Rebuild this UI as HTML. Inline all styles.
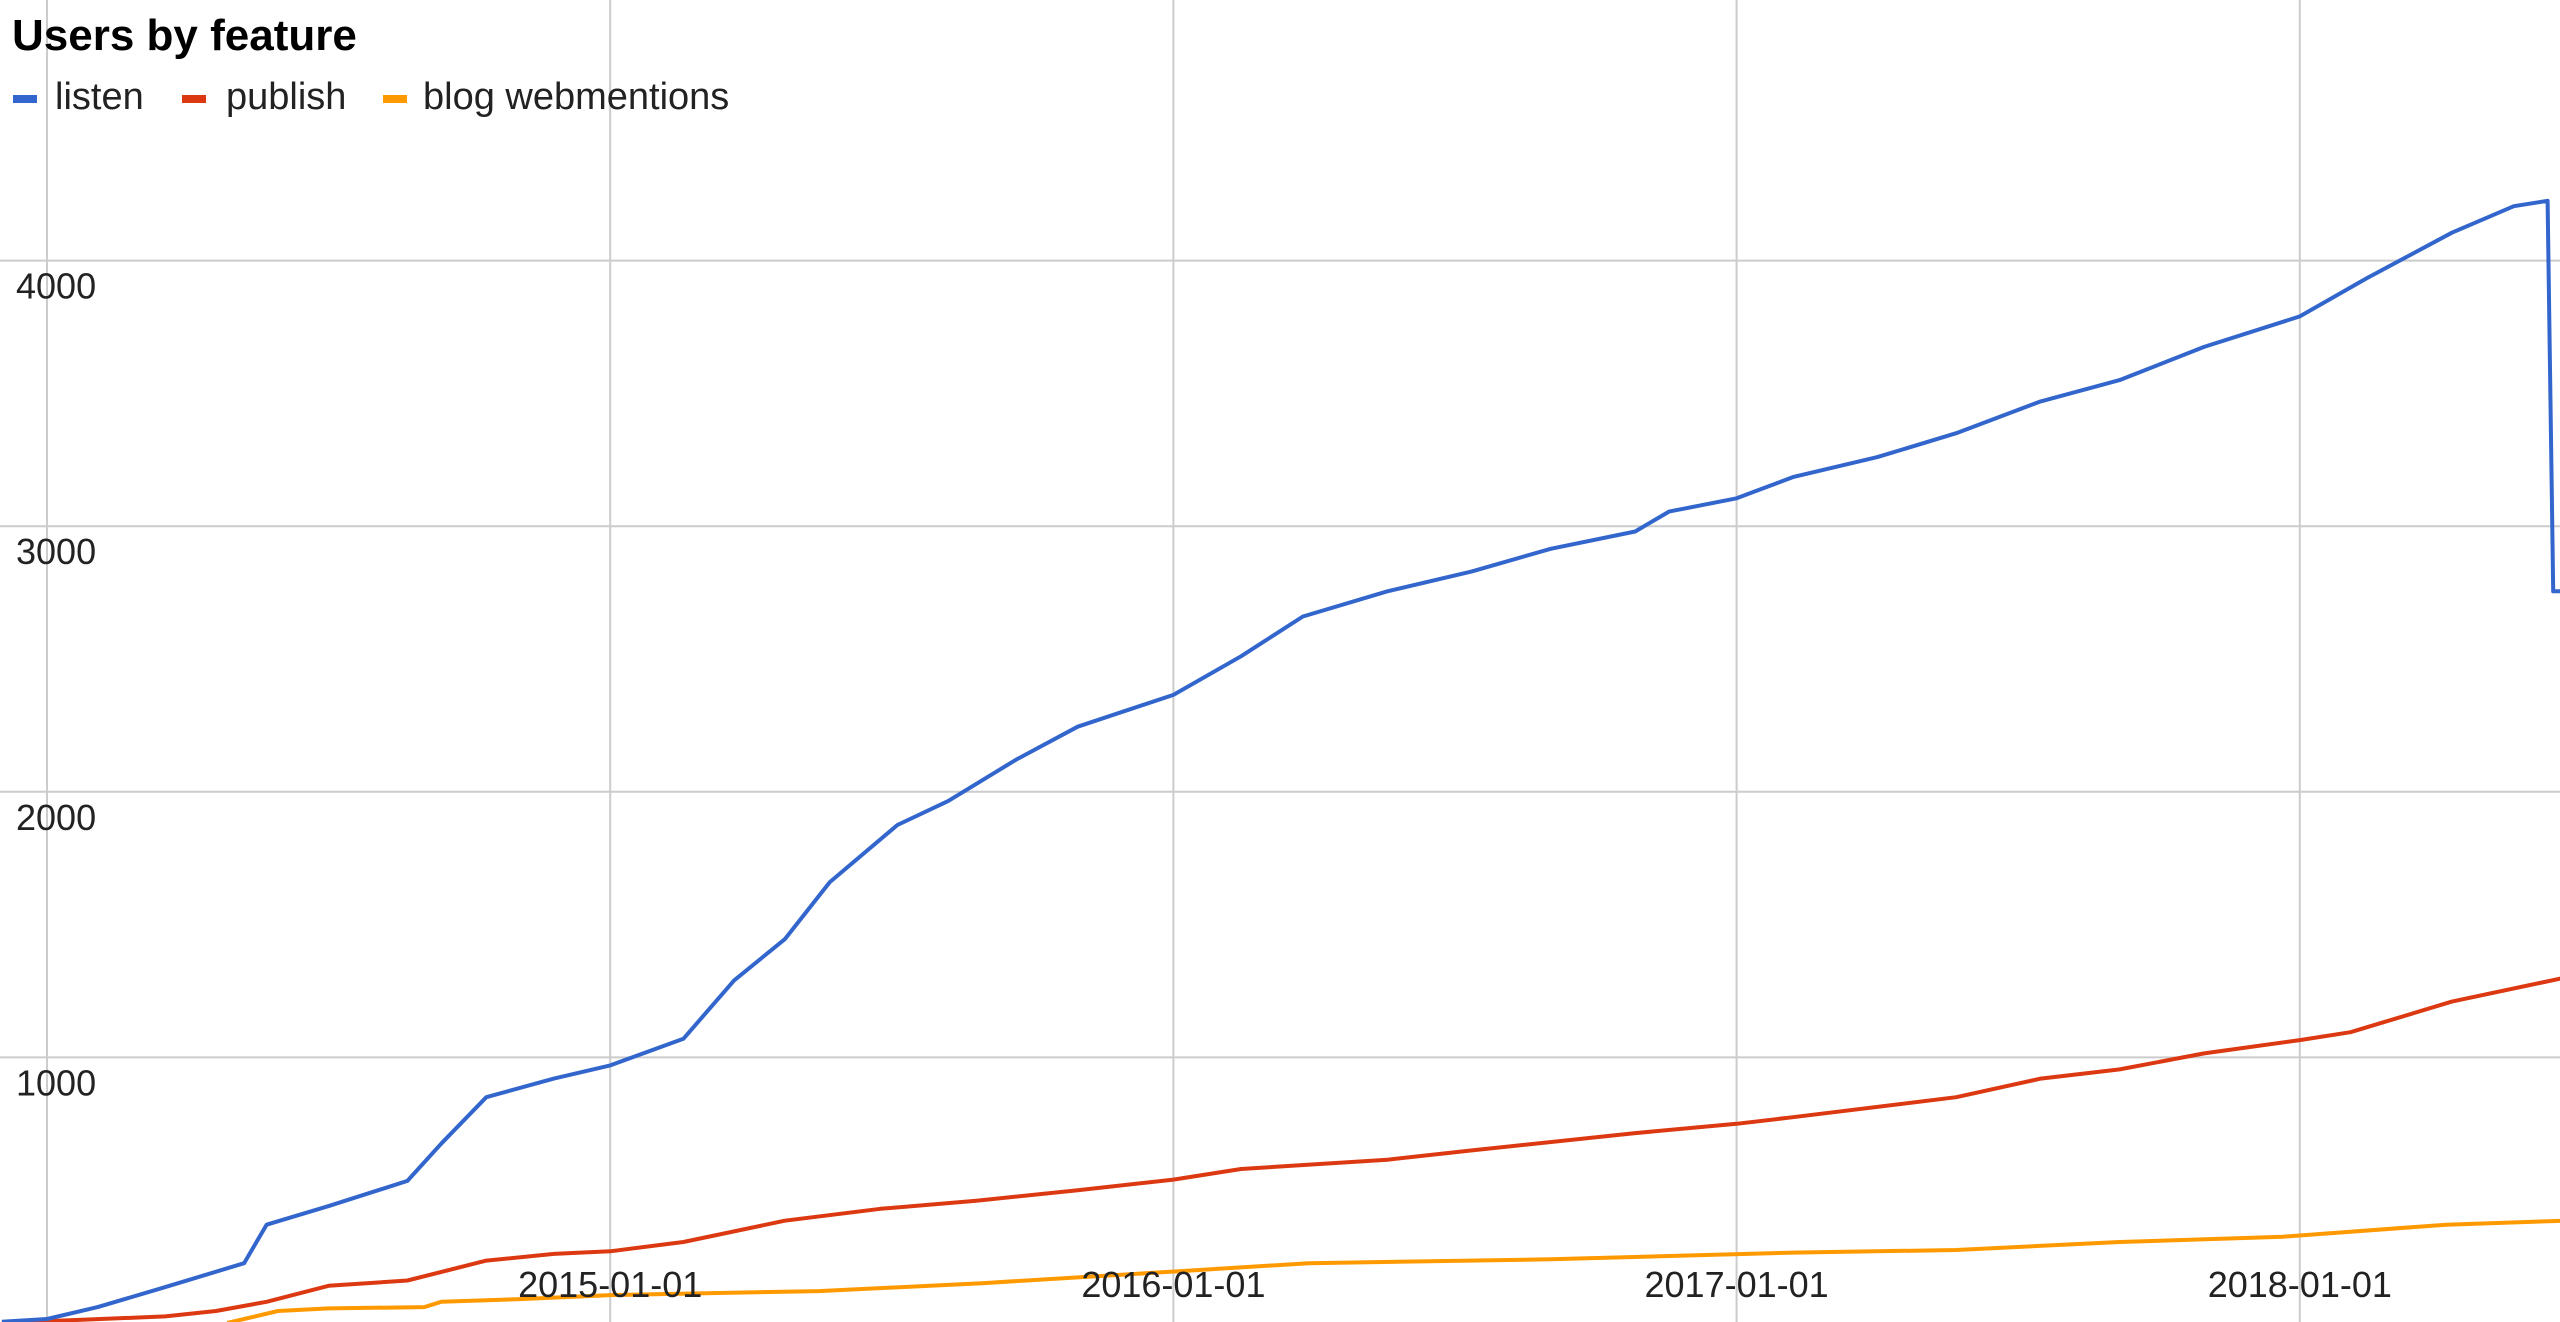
<!DOCTYPE html>
<html><head><meta charset="utf-8"><style>
html,body{margin:0;padding:0;background:#fff;}
svg{display:block;font-family:"Liberation Sans",sans-serif;}
</style></head><body>
<svg id="chart" width="2560" height="1322" viewBox="0 0 2560 1322" xmlns="http://www.w3.org/2000/svg">
<g id="grid"></g>
<g id="series"></g>
<g id="axes"></g>
<text x="12" y="50" font-size="44" font-weight="bold" fill="#000">Users by feature</text>
<g>
<g><rect x="13" y="95" width="24" height="8" fill="#3366cc"/><text x="55" y="109" font-size="38" fill="#222">listen</text></g>
<g><rect x="182" y="95" width="24" height="8" fill="#dc3912"/><text x="226" y="109" font-size="38" fill="#222">publish</text></g>
<g><rect x="383" y="95" width="24" height="8" fill="#ff9900"/><text x="423" y="109" font-size="38" fill="#222">blog webmentions</text></g>
</g>
</svg>
<script>
const yTicks = [1000, 2000, 3000, 4000];
const xTickYears = [2014, 2015, 2016, 2017, 2018];
const xTickLabels = ["", "2015-01-01", "2016-01-01", "2017-01-01", "2018-01-01"];
const listenYears = [2013.92,2014.0,2014.09,2014.21,2014.35,2014.39,2014.5,2014.64,2014.7,2014.78,2014.9,2015.0,2015.13,2015.22,2015.31,2015.39,2015.51,2015.6,2015.72,2015.83,2016.0,2016.12,2016.23,2016.38,2016.53,2016.67,2016.82,2016.88,2017.0,2017.1,2017.25,2017.39,2017.54,2017.68,2017.83,2018.0,2018.12,2018.27,2018.38,2018.44,2018.45,2018.47];
const listenValues = [5,15,60,135,225,370,440,535,675,850,920,970,1070,1290,1445,1660,1875,1965,2120,2245,2365,2510,2660,2755,2830,2915,2980,3055,3105,3185,3260,3350,3470,3550,3675,3790,3935,4105,4205,4225,2755,2755];
const publishYears = [2013.92,2014.21,2014.3,2014.39,2014.5,2014.64,2014.78,2014.9,2015.0,2015.13,2015.31,2015.48,2015.65,2015.83,2016.0,2016.12,2016.38,2016.53,2016.82,2017.0,2017.1,2017.39,2017.54,2017.68,2017.83,2018.0,2018.09,2018.27,2018.47];
const publishValues = [0,25,45,80,140,160,235,260,270,305,385,430,460,500,540,580,615,650,715,750,775,850,920,955,1015,1065,1095,1210,1300];
const blogYears = [2014.32,2014.41,2014.5,2014.67,2014.7,2014.84,2015.0,2015.37,2015.66,2016.01,2016.24,2016.67,2017.1,2017.39,2017.68,2017.97,2018.26,2018.47];
const blogValues = [0,45,55,60,80,90,105,120,150,195,225,240,265,275,305,325,370,385];

const NS = "http://www.w3.org/2000/svg";
const X0 = 47, YEARW = 563.2, Y0 = 1323, PER1000 = 265.6;
function xScale(yr){ return X0 + (yr - 2014) * YEARW; }
function yScale(v){ return Y0 - v / 1000 * PER1000; }
const grid = document.getElementById('grid');
const axes = document.getElementById('axes');
const series = document.getElementById('series');

yTicks.forEach(v => {
  const l = document.createElementNS(NS, 'line');
  l.setAttribute('x1', 0); l.setAttribute('x2', 2560);
  l.setAttribute('y1', yScale(v)); l.setAttribute('y2', yScale(v));
  l.setAttribute('stroke', '#cccccc'); l.setAttribute('stroke-width', 2);
  
  
  grid.appendChild(l);
  const t = document.createElementNS(NS, 'text');
  t.setAttribute('x', 16); t.setAttribute('y', yScale(v) + 38);
  t.setAttribute('font-size', 36); t.setAttribute('fill', '#222');
  t.textContent = String(v);
  
  
  axes.appendChild(t);
});
xTickYears.forEach((yr, i) => {
  const l = document.createElementNS(NS, 'line');
  l.setAttribute('x1', xScale(yr)); l.setAttribute('x2', xScale(yr));
  l.setAttribute('y1', 0); l.setAttribute('y2', 1322);
  l.setAttribute('stroke', '#cccccc'); l.setAttribute('stroke-width', 2);
  
  
  grid.appendChild(l);
  if (xTickLabels[i]) {
    const t = document.createElementNS(NS, 'text');
    t.setAttribute('x', xScale(yr)); t.setAttribute('y', 1297);
    t.setAttribute('font-size', 36); t.setAttribute('fill', '#222');
    t.setAttribute('text-anchor', 'middle');
    t.textContent = xTickLabels[i];
    
    
    axes.appendChild(t);
  }
});
function drawLine(xs, vs, color, name){
  const p = document.createElementNS(NS, 'polyline');
  p.setAttribute('points', xs.map((x, i) => xScale(x).toFixed(1) + ',' + yScale(vs[i]).toFixed(1)).join(' '));
  p.setAttribute('fill', 'none'); p.setAttribute('stroke', color);
  p.setAttribute('stroke-width', 4); p.setAttribute('stroke-linejoin', 'round');
  
  
  series.appendChild(p);
}
drawLine(blogYears, blogValues, '#ff9900', 'blog-webmentions-line');
drawLine(publishYears, publishValues, '#dc3912', 'publish-line');
drawLine(listenYears, listenValues, '#3366cc', 'listen-line');
</script>
</body></html>
